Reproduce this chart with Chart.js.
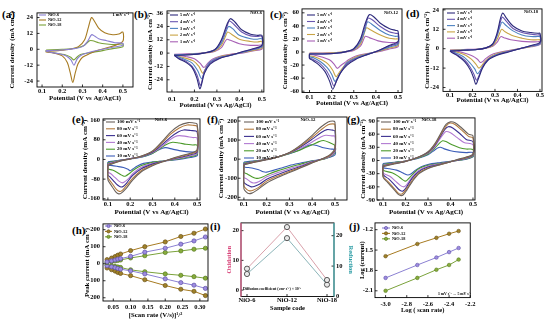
<!DOCTYPE html>
<html>
<head>
<meta charset="utf-8">
<script src="https://cdn.jsdelivr.net/npm/chart.js@4.4.1/dist/chart.umd.min.js"></script>
<style>
  body { margin: 0; background: #fff; width: 550px; height: 321px; overflow: hidden; position: relative; }
  canvas { position: absolute; }
  .lbl { position: absolute; font: bold 11px "Liberation Serif", serif; line-height: 11px; color: #000; }
</style>
</head>
<body>
<div class="lbl" style="left:2px;top:9px">(a)</div>
<div class="lbl" style="left:134px;top:9px">(b)</div>
<div class="lbl" style="left:270px;top:9px">(c)</div>
<div class="lbl" style="left:406px;top:8px">(d)</div>
<div class="lbl" style="left:72px;top:114px">(e)</div>
<div class="lbl" style="left:207px;top:114px">(f)</div>
<div class="lbl" style="left:347px;top:114px">(g)</div>
<div class="lbl" style="left:72px;top:225px">(h)</div>
<div class="lbl" style="left:210px;top:221px">(i)</div>
<div class="lbl" style="left:349px;top:221px">(j)</div>
<script>
// --- LABELS ---
const samples = ['NiO-6', 'NiO-12', 'NiO-18'];
const lowRates = ['5 mV s⁻¹', '4 mV s⁻¹', '3 mV s⁻¹', '2 mV s⁻¹', '1 mV s⁻¹'];
const highRates = ['100 mV s⁻¹', '80 mV s⁻¹', '60 mV s⁻¹', '40 mV s⁻¹', '20 mV s⁻¹', '10 mV s⁻¹'];

// --- TICKS ---
const potTicks = [0.1, 0.2, 0.3, 0.4, 0.5];
const ticksA = [-24, -12, 0, 12, 24];
const ticksB = [-24, -12, 0, 12, 24, 36];
const ticksC = [-60, -40, -20, 0, 20, 40, 60];
const ticksD = [-24, -12, 0, 12, 24];
const ticksE = [-160, -80, 0, 80, 160];
const ticksF = [-200, -100, 0, 100, 200];
const ticksG = [-90, -60, -30, 0, 30, 60, 90];
const ticksHx = [0.05, 0.10, 0.15, 0.20, 0.25, 0.30];
const ticksHy = [-200, -100, 0, 100, 200];
const ticksI = [0, 10, 20];
const ticksJx = [-3.0, -2.8, -2.6, -2.4, -2.2];
const ticksJy = [-2.1, -1.8, -1.5, -1.2];

// --- CV LOOPS (flat x,y pairs: forward sweep then reverse) ---
// (a) 1 mV/s, NiO-6 / NiO-12 / NiO-18
const loopsA = [
  [0.12,-1, 0.2,-0.5, 0.26,0.5, 0.3,2, 0.325,6, 0.345,11, 0.36,10, 0.38,8, 0.42,6.5, 0.46,5, 0.5,4.5, 0.5,3, 0.45,1.5, 0.4,0, 0.34,-2, 0.3,-4, 0.275,-7, 0.258,-12, 0.243,-8, 0.22,-5, 0.19,-3.5, 0.15,-2.5, 0.12,-1.5, 0.12,-1],
  [0.12,-1.5, 0.18,-1, 0.24,0, 0.28,2, 0.31,7, 0.33,17, 0.345,24, 0.36,21, 0.38,16, 0.41,12.5, 0.45,11, 0.48,11.5, 0.5,13, 0.5,6, 0.47,3.5, 0.43,1.5, 0.38,-0.5, 0.34,-3, 0.3,-6, 0.278,-11, 0.264,-18, 0.252,-25, 0.24,-18, 0.225,-10, 0.2,-5, 0.16,-3, 0.12,-2, 0.12,-1.5],
  [0.12,-0.5, 0.2,0, 0.27,1, 0.31,3, 0.335,6.5, 0.35,6.5, 0.38,5, 0.42,4, 0.46,3.5, 0.5,4, 0.5,2, 0.45,0.5, 0.4,-1, 0.34,-2.5, 0.29,-4, 0.272,-6, 0.257,-8, 0.242,-6, 0.21,-4, 0.17,-3, 0.12,-1.5, 0.12,-0.5]
];
// (b) NiO-6, 5..1 mV/s
const loopsB = [
  [0.11,-2, 0.18,-1.5, 0.24,0, 0.29,3, 0.32,12, 0.345,26, 0.36,31, 0.38,28, 0.41,21, 0.45,17, 0.48,16, 0.5,16, 0.5,7, 0.46,4, 0.41,1, 0.36,-2, 0.31,-5, 0.27,-10, 0.245,-18, 0.225,-32, 0.21,-22, 0.19,-13, 0.16,-8, 0.13,-5, 0.11,-2],
  [0.11,-2, 0.18,-1.5, 0.24,0, 0.29,3, 0.32,11, 0.345,24, 0.355,29, 0.375,26, 0.41,19, 0.45,15.5, 0.48,15, 0.5,15, 0.5,6.5, 0.46,3.5, 0.41,1, 0.36,-2, 0.31,-4.5, 0.27,-9, 0.245,-16, 0.227,-29, 0.212,-20, 0.19,-12, 0.16,-7, 0.13,-4.5, 0.11,-2],
  [0.11,-1.5, 0.18,-1, 0.24,0, 0.29,2.5, 0.32,9, 0.34,19, 0.352,24, 0.37,22, 0.4,16, 0.45,13, 0.48,12.5, 0.5,13, 0.5,5.5, 0.46,3, 0.41,0.5, 0.36,-2, 0.31,-4, 0.27,-8, 0.25,-14, 0.232,-23, 0.215,-16, 0.19,-9, 0.16,-6, 0.13,-3.5, 0.11,-1.5],
  [0.11,-1.5, 0.18,-1, 0.24,0, 0.29,2, 0.32,7, 0.338,15, 0.348,19, 0.365,17, 0.4,12.5, 0.45,10.5, 0.48,10, 0.5,10.5, 0.5,4.5, 0.46,2.5, 0.41,0.5, 0.36,-1.5, 0.31,-3.5, 0.28,-7, 0.255,-12, 0.237,-18, 0.22,-12, 0.195,-7, 0.16,-4.5, 0.13,-3, 0.11,-1.5],
  [0.11,-1, 0.18,-0.5, 0.24,0, 0.29,1.5, 0.32,5, 0.335,10, 0.345,12.5, 0.36,11.5, 0.4,8.5, 0.45,7, 0.48,7, 0.5,7, 0.5,3.5, 0.46,2, 0.41,0, 0.36,-1, 0.31,-3, 0.28,-5.5, 0.26,-9, 0.242,-13, 0.225,-9, 0.2,-5, 0.16,-3, 0.13,-2, 0.11,-1]
];
// (c) NiO-12, 5..1 mV/s
const loopsC = [
  [0.1,-3, 0.16,-3, 0.22,-2, 0.27,1, 0.3,5, 0.33,20, 0.35,42, 0.37,57, 0.39,54, 0.42,44, 0.46,36, 0.49,33, 0.5,32, 0.5,16, 0.46,10, 0.41,2, 0.36,-4, 0.31,-11, 0.27,-20, 0.24,-32, 0.22,-46, 0.205,-57, 0.19,-44, 0.17,-30, 0.14,-19, 0.115,-13, 0.1,-10, 0.1,-3],
  [0.1,-3, 0.16,-3, 0.22,-2, 0.27,1, 0.3,4.5, 0.33,18, 0.35,38, 0.365,52, 0.385,49, 0.42,39, 0.46,31, 0.49,28.5, 0.5,28, 0.5,14, 0.46,9, 0.41,2, 0.36,-4, 0.31,-10, 0.27,-18, 0.245,-29, 0.225,-42, 0.21,-52, 0.195,-40, 0.175,-28, 0.145,-17, 0.115,-11, 0.1,-9, 0.1,-3],
  [0.1,-2.5, 0.16,-2.5, 0.22,-1.5, 0.27,1, 0.3,4, 0.33,15, 0.35,33, 0.362,46, 0.38,43, 0.42,33, 0.46,26, 0.49,24, 0.5,24, 0.5,12, 0.46,7.5, 0.41,1.5, 0.36,-3.5, 0.31,-9, 0.27,-16, 0.25,-26, 0.23,-37, 0.215,-45, 0.2,-34, 0.18,-24, 0.15,-15, 0.12,-9, 0.1,-7, 0.1,-2.5],
  [0.1,-2, 0.16,-2, 0.22,-1, 0.27,1, 0.3,3.5, 0.33,12, 0.345,26, 0.357,37, 0.375,34, 0.42,26, 0.46,21, 0.49,20, 0.5,20, 0.5,10, 0.46,6, 0.41,1, 0.36,-3, 0.31,-7.5, 0.275,-14, 0.255,-22, 0.235,-31, 0.22,-38, 0.205,-28, 0.185,-19, 0.155,-12, 0.12,-7, 0.1,-5.5, 0.1,-2],
  [0.1,-1.5, 0.16,-1.5, 0.22,-1, 0.27,0.5, 0.3,2.5, 0.33,9, 0.343,18, 0.352,24, 0.37,22, 0.41,17, 0.46,14.5, 0.49,14.5, 0.5,15, 0.5,8, 0.46,4.5, 0.41,0.5, 0.36,-2.5, 0.31,-6, 0.28,-11, 0.26,-16, 0.24,-21, 0.225,-25, 0.21,-18, 0.19,-12, 0.16,-8, 0.12,-4.5, 0.1,-3.5, 0.1,-1.5]
];
// (d) NiO-18, 5..1 mV/s
const loopsD = [
  [0.1,-1.5, 0.16,-1, 0.22,-0.5, 0.26,0.5, 0.29,3, 0.31,10, 0.325,19, 0.335,22, 0.35,19, 0.38,14, 0.42,11, 0.46,10, 0.49,9.5, 0.5,9.5, 0.5,4, 0.46,2, 0.41,0, 0.36,-2, 0.31,-4, 0.27,-7, 0.245,-12, 0.225,-19, 0.215,-22, 0.205,-18, 0.19,-13, 0.165,-8, 0.135,-4.5, 0.11,-2.5, 0.1,-1.5],
  [0.1,-1.5, 0.16,-1, 0.22,-0.5, 0.26,0.5, 0.29,2.8, 0.31,9, 0.325,17, 0.333,19.5, 0.35,17, 0.38,12.5, 0.42,10, 0.46,9, 0.49,8.5, 0.5,8.5, 0.5,3.5, 0.46,1.8, 0.41,0, 0.36,-1.8, 0.31,-3.8, 0.27,-6.5, 0.245,-11, 0.228,-17, 0.218,-19.5, 0.207,-16, 0.19,-11.5, 0.165,-7, 0.135,-4, 0.11,-2.2, 0.1,-1.5],
  [0.1,-1.2, 0.16,-0.8, 0.22,-0.4, 0.26,0.5, 0.29,2.5, 0.31,8, 0.323,14, 0.332,16.5, 0.348,14.5, 0.38,11, 0.42,8.5, 0.46,7.5, 0.49,7.5, 0.5,7.5, 0.5,3, 0.46,1.5, 0.41,0, 0.36,-1.6, 0.31,-3.5, 0.275,-6, 0.25,-10, 0.232,-14, 0.222,-15.5, 0.21,-12.5, 0.19,-9, 0.165,-5.5, 0.135,-3.2, 0.11,-1.8, 0.1,-1.2],
  [0.1,-1, 0.16,-0.7, 0.22,-0.3, 0.26,0.4, 0.29,2, 0.31,6, 0.322,10, 0.33,12, 0.345,10.5, 0.38,8, 0.42,6.5, 0.46,5.5, 0.49,5.5, 0.5,5.5, 0.5,3, 0.46,1.4, 0.41,0, 0.36,-1.4, 0.31,-3, 0.28,-5, 0.255,-8, 0.238,-11, 0.228,-12, 0.215,-9.5, 0.195,-6.5, 0.17,-4, 0.14,-2.5, 0.11,-1.4, 0.1,-1],
  [0.1,-0.8, 0.16,-0.5, 0.22,-0.2, 0.26,0.3, 0.29,1.5, 0.31,4, 0.32,6.5, 0.328,7.5, 0.34,6.8, 0.37,5.5, 0.42,4.5, 0.46,4.2, 0.49,4.3, 0.5,4.5, 0.5,2.5, 0.46,1.2, 0.41,0, 0.36,-1.2, 0.31,-2.5, 0.28,-4, 0.26,-6, 0.245,-8, 0.235,-8.5, 0.222,-6.5, 0.2,-4.5, 0.17,-3, 0.14,-1.8, 0.11,-1, 0.1,-0.8]
];
// (e) NiO-6, 100..10 mV/s
const loopsE = [
  [0.1,-25, 0.15,-8, 0.2,2, 0.25,14, 0.3,35, 0.34,70, 0.38,110, 0.42,138, 0.46,150, 0.48,149, 0.5,144, 0.5,40, 0.47,25, 0.44,18, 0.4,8, 0.35,-8, 0.3,-26, 0.25,-50, 0.21,-85, 0.18,-120, 0.16,-137, 0.148,-140, 0.135,-132, 0.12,-112, 0.105,-92, 0.1,-82, 0.1,-25],
  [0.1,-22, 0.15,-7, 0.2,2, 0.25,13, 0.3,33, 0.34,65, 0.38,102, 0.42,128, 0.455,140, 0.48,139, 0.5,134, 0.5,35, 0.47,22, 0.44,15, 0.4,6, 0.35,-8, 0.3,-23, 0.25,-45, 0.21,-78, 0.18,-110, 0.163,-127, 0.152,-130, 0.138,-122, 0.122,-102, 0.107,-83, 0.1,-75, 0.1,-22],
  [0.1,-20, 0.15,-6, 0.2,3, 0.25,12, 0.3,30, 0.34,58, 0.38,90, 0.415,112, 0.44,120, 0.47,118, 0.5,112, 0.5,30, 0.47,19, 0.44,12, 0.4,4, 0.35,-7, 0.3,-19, 0.25,-38, 0.21,-66, 0.185,-95, 0.168,-110, 0.158,-112, 0.143,-104, 0.125,-87, 0.108,-70, 0.1,-64, 0.1,-20],
  [0.1,-17, 0.15,-5, 0.2,3, 0.25,11, 0.3,28, 0.34,52, 0.375,78, 0.4,92, 0.42,97, 0.45,94, 0.48,89, 0.5,87, 0.5,25, 0.47,15, 0.44,9, 0.4,2, 0.35,-7, 0.3,-16, 0.25,-32, 0.215,-55, 0.19,-80, 0.172,-93, 0.163,-95, 0.148,-87, 0.13,-72, 0.11,-56, 0.1,-52, 0.1,-17],
  [0.1,-13, 0.15,-4, 0.2,3, 0.25,10, 0.3,25, 0.33,42, 0.36,60, 0.39,70, 0.42,67, 0.45,62, 0.48,59, 0.5,58, 0.5,20, 0.47,12, 0.44,6, 0.4,0, 0.35,-6, 0.3,-12, 0.25,-25, 0.22,-40, 0.195,-58, 0.18,-67, 0.172,-68, 0.158,-62, 0.14,-52, 0.12,-43, 0.1,-38, 0.1,-13],
  [0.1,-10, 0.15,-3, 0.2,2, 0.25,9, 0.29,20, 0.32,35, 0.345,46, 0.36,48, 0.39,42, 0.42,36, 0.45,32, 0.48,30, 0.5,30, 0.5,15, 0.47,8, 0.44,3, 0.4,-2, 0.35,-6, 0.3,-10, 0.26,-16, 0.23,-28, 0.21,-40, 0.2,-46, 0.19,-40, 0.17,-33, 0.14,-28, 0.12,-25, 0.1,-23, 0.1,-10]
];
// (f) NiO-12, 100..10 mV/s
const loopsF = [
  [0.1,-30, 0.15,-15, 0.2,-3, 0.25,12, 0.3,35, 0.35,75, 0.4,125, 0.44,170, 0.47,195, 0.49,200, 0.5,195, 0.5,60, 0.48,25, 0.45,5, 0.4,-20, 0.35,-45, 0.3,-70, 0.25,-95, 0.2,-125, 0.16,-160, 0.135,-178, 0.12,-180, 0.11,-172, 0.1,-155, 0.1,-30],
  [0.1,-28, 0.15,-14, 0.2,-2, 0.25,12, 0.3,34, 0.35,70, 0.4,115, 0.44,155, 0.47,180, 0.49,185, 0.5,180, 0.5,55, 0.48,22, 0.45,4, 0.4,-18, 0.35,-42, 0.3,-65, 0.25,-88, 0.2,-115, 0.165,-148, 0.14,-163, 0.125,-166, 0.112,-158, 0.1,-140, 0.1,-28],
  [0.1,-26, 0.15,-13, 0.2,-2, 0.25,12, 0.3,33, 0.35,65, 0.4,105, 0.44,140, 0.465,155, 0.49,152, 0.5,148, 0.5,48, 0.48,20, 0.45,3, 0.4,-15, 0.35,-38, 0.3,-58, 0.25,-80, 0.2,-105, 0.17,-130, 0.145,-143, 0.132,-145, 0.118,-137, 0.1,-120, 0.1,-26],
  [0.1,-24, 0.15,-12, 0.2,-1, 0.25,12, 0.3,32, 0.35,58, 0.4,90, 0.44,118, 0.46,125, 0.49,122, 0.5,120, 0.5,40, 0.48,17, 0.45,2, 0.4,-13, 0.35,-33, 0.3,-50, 0.25,-70, 0.2,-92, 0.175,-112, 0.155,-123, 0.142,-125, 0.128,-118, 0.11,-102, 0.1,-95, 0.1,-24],
  [0.1,-20, 0.15,-10, 0.2,0, 0.25,12, 0.3,30, 0.35,50, 0.4,75, 0.43,92, 0.45,98, 0.48,85, 0.5,72, 0.5,32, 0.48,14, 0.45,0, 0.4,-10, 0.35,-26, 0.3,-42, 0.25,-60, 0.21,-78, 0.185,-92, 0.165,-100, 0.152,-100, 0.135,-92, 0.115,-78, 0.1,-68, 0.1,-20],
  [0.1,-15, 0.15,-8, 0.2,0, 0.25,12, 0.3,28, 0.34,45, 0.37,65, 0.395,75, 0.42,72, 0.45,60, 0.48,53, 0.5,50, 0.5,22, 0.47,8, 0.44,-2, 0.4,-8, 0.35,-20, 0.3,-33, 0.26,-48, 0.225,-60, 0.2,-68, 0.185,-66, 0.165,-55, 0.14,-48, 0.12,-44, 0.1,-40, 0.1,-15]
];
// (g) NiO-18, 100..10 mV/s
const loopsG = [
  [0.1,-14, 0.15,-8, 0.2,-2, 0.25,6, 0.3,20, 0.33,38, 0.36,65, 0.38,82, 0.4,88, 0.42,86, 0.45,74, 0.48,60, 0.5,56, 0.5,15, 0.47,8, 0.43,2, 0.4,-3, 0.35,-10, 0.3,-18, 0.26,-30, 0.23,-48, 0.205,-68, 0.19,-78, 0.18,-80, 0.165,-76, 0.145,-64, 0.12,-50, 0.1,-38, 0.1,-14],
  [0.1,-13, 0.15,-7, 0.2,-2, 0.25,6, 0.3,19, 0.33,36, 0.36,62, 0.38,78, 0.395,85, 0.42,82, 0.45,69, 0.48,55, 0.5,51, 0.5,14, 0.47,7, 0.43,1.5, 0.4,-3, 0.35,-10, 0.3,-17, 0.26,-28, 0.23,-45, 0.205,-64, 0.19,-74, 0.18,-77, 0.165,-73, 0.145,-61, 0.12,-47, 0.1,-36, 0.1,-13],
  [0.1,-12, 0.15,-7, 0.2,-2, 0.25,6, 0.3,18, 0.33,34, 0.355,55, 0.375,71, 0.39,77, 0.41,74, 0.44,62, 0.47,48, 0.5,43, 0.5,13, 0.47,6, 0.43,1, 0.4,-3, 0.35,-9, 0.3,-15, 0.26,-25, 0.23,-40, 0.21,-56, 0.195,-67, 0.185,-70, 0.17,-66, 0.15,-55, 0.125,-42, 0.1,-32, 0.1,-12],
  [0.1,-11, 0.15,-6, 0.2,-1.5, 0.25,6, 0.3,17, 0.33,31, 0.35,47, 0.37,61, 0.38,66, 0.4,63, 0.43,52, 0.46,41, 0.5,36, 0.5,12, 0.47,5, 0.43,0.5, 0.4,-3, 0.35,-8, 0.3,-13, 0.26,-22, 0.235,-34, 0.215,-48, 0.2,-58, 0.19,-60, 0.175,-56, 0.155,-47, 0.13,-36, 0.1,-28, 0.1,-11],
  [0.1,-9, 0.15,-5, 0.2,-1, 0.25,5, 0.3,15, 0.33,28, 0.35,39, 0.365,45, 0.38,43, 0.41,35, 0.44,29, 0.47,26, 0.5,25, 0.5,10, 0.47,4, 0.43,0, 0.4,-2.5, 0.35,-7, 0.3,-11, 0.26,-18, 0.24,-27, 0.22,-38, 0.205,-46, 0.198,-47, 0.185,-43, 0.165,-35, 0.14,-28, 0.1,-22, 0.1,-9],
  [0.1,-7, 0.15,-4, 0.2,-1, 0.25,4, 0.3,13, 0.33,24, 0.345,29, 0.355,30, 0.37,27, 0.4,22, 0.44,19, 0.47,18, 0.5,18, 0.5,8, 0.47,3, 0.43,0, 0.4,-2, 0.35,-5, 0.3,-9, 0.27,-14, 0.245,-22, 0.225,-30, 0.21,-33, 0.198,-31, 0.18,-26, 0.16,-22, 0.13,-19, 0.1,-16, 0.1,-7]
];

// --- (h) PEAK CURRENT vs sqrt(scan rate) ---
const sqrtRate = [0.032, 0.045, 0.055, 0.063, 0.071, 0.100, 0.141, 0.200, 0.245, 0.283, 0.316];
const anodicNiO6  = [11, 17, 22, 27, 30, 43, 68, 91, 115, 134, 157];
const anodicNiO12 = [24, 33, 42, 50, 57, 77, 100, 128, 160, 179, 204];
const anodicNiO18 = [7, 12, 16, 19, 22, 34, 47, 66, 75, 85, 91];
const cathodicNiO6  = [-12, -18, -23, -28, -32, -42, -60, -89, -111, -126, -145];
const cathodicNiO12 = [-25, -35, -43, -51, -57, -70, -94, -128, -150, -162, -187];
const cathodicNiO18 = [-8, -12, -16, -19, -22, -36, -47, -60, -68, -76, -85];

// --- (i) DIFFUSION COEFFICIENTS ---
const sampleIdx = [0, 1, 2];
const oxidation = [7.2, 21.2, 3.4];
const reduction = [7.4, 19.2, 3.9];

// --- (j) LOG CURRENT vs LOG SCAN RATE ---
const logRate = [-3.0, -2.7, -2.52, -2.4, -2.31];
const logNiO6  = [-1.91, -1.72, -1.61, -1.53, -1.47];
const logNiO12 = [-1.59, -1.41, -1.32, -1.26, -1.22];
const logNiO18 = [-2.10, -1.91, -1.79, -1.72, -1.64];

// --- COLOURS ---
const sampleColors = ['#8b80d2', '#a77b22', '#7aa23a'];
const markerColors = ['#9d8ce0', '#a0822a', '#88ac3c'];
const markerEdges = ['#5f50a8', '#6a5015', '#557a1c'];
const lowRateColors = ['#2e2b7c', '#6a56b0', '#4d82c0', '#c9a445', '#a862b6'];
const highRateColors = ['#6b625c', '#b37a3e', '#3a2f90', '#b27ad2', '#4d9b2c', '#3c5db8'];

const FONT = '"Liberation Serif", "Times New Roman", serif';
Chart.defaults.font.family = FONT;
Chart.defaults.font.weight = 'bold';
Chart.defaults.font.size = 6.5;
Chart.defaults.color = '#000';
Chart.defaults.animation = false;

function pts(flat) {
  const out = [];
  for (let i = 0; i < flat.length; i += 2) out.push({ x: flat[i], y: flat[i + 1] });
  return out;
}
function zip(xs, ys) { return xs.map((x, i) => ({ x, y: ys[i] })); }

// frame, inner ticks, legend and notes drawn on top of the plot
const deco = {
  id: 'deco',
  afterDatasetsDraw(chart, args, o) {
    const { ctx, chartArea: a } = chart;
    const ox = chart.canvas.offsetLeft, oy = chart.canvas.offsetTop;
    ctx.save();
    ctx.strokeStyle = '#000';
    ctx.lineWidth = 0.8;
    ['x', 'y', 'y2'].forEach(id => {
      const s = chart.scales[id];
      if (!s) return;
      s.ticks.forEach(tk => {
        const p = s.getPixelForValue(tk.value);
        ctx.beginPath();
        if (id === 'x') { ctx.moveTo(p, a.bottom); ctx.lineTo(p, a.bottom - 2.5); }
        else if (id === 'y') { ctx.moveTo(a.left, p); ctx.lineTo(a.left + 2.5, p); }
        else { ctx.moveTo(a.right, p); ctx.lineTo(a.right - 2.5, p); }
        ctx.stroke();
      });
    });
    ctx.lineWidth = 0.9;
    ctx.strokeRect(a.left, a.top, a.width, a.height);
    if (o.sides) {
      ctx.lineWidth = 1.2;
      ctx.strokeStyle = o.sides[0];
      ctx.beginPath(); ctx.moveTo(a.left, a.top); ctx.lineTo(a.left, a.bottom); ctx.stroke();
      ctx.strokeStyle = o.sides[1];
      ctx.beginPath(); ctx.moveTo(a.right, a.top); ctx.lineTo(a.right, a.bottom); ctx.stroke();
    }
    if (o.legend) {
      const L = o.legend;
      ctx.font = `bold ${L.size}px ${FONT}`;
      ctx.textBaseline = 'middle';
      ctx.textAlign = 'left';
      L.items.forEach((it, i) => {
        const ds = chart.data.datasets[it];
        const x = L.x - ox, y = L.y + i * L.dy - oy;
        ctx.strokeStyle = ds.borderColor;
        ctx.lineWidth = 1.1;
        ctx.beginPath(); ctx.moveTo(x, y); ctx.lineTo(x + L.len, y); ctx.stroke();
        if (L.marker) {
          ctx.fillStyle = ds.pointBackgroundColor;
          ctx.strokeStyle = ds.pointBorderColor;
          ctx.lineWidth = 0.7;
          ctx.beginPath(); ctx.arc(x + L.len / 2, y, 1.6, 0, Math.PI * 2); ctx.fill(); ctx.stroke();
        }
        ctx.fillStyle = '#000';
        ctx.fillText(ds.label, x + L.len + 2, y);
      });
    }
    (o.notes || []).forEach(n => {
      ctx.font = `bold ${n.size || 5}px ${FONT}`;
      ctx.fillStyle = '#000';
      ctx.textBaseline = 'middle';
      ctx.textAlign = n.align || 'left';
      ctx.fillText(n.t, n.x - ox, n.y - oy);
    });
    ctx.restore();
  }
};

function axis(pos, range, ticks, fmt, title, size, tickPad, titleSize, titleColor) {
  return {
    type: 'linear', position: pos, min: range[0], max: range[1],
    afterBuildTicks: s => { s.ticks = ticks.map(v => ({ value: v })); },
    afterFit: s => { if (pos === 'bottom') s.height = size; else s.width = size; },
    grid: { display: false, drawOnChartArea: false, drawTicks: false },
    border: { display: false },
    ticks: { padding: tickPad, autoSkip: false, maxRotation: 0, font: { size: 6.5, weight: 'bold' }, callback: v => fmt(v) },
    title: { display: true, text: title, padding: 0, color: titleColor || '#000', font: { size: titleSize, weight: 'bold' } }
  };
}

function panel(p) {
  const cv = document.createElement('canvas');
  const [l, t, r, b] = p.frame;
  cv.width = r - l + p.yW + (p.rW || 0) + p.padRight;
  cv.height = b - t + p.padTop + p.xH;
  cv.style.left = (l - p.yW) + 'px';
  cv.style.top = (t - p.padTop) + 'px';
  document.body.appendChild(cv);
  const ts = p.ts || 6.8;
  const scales = {
    x: axis('bottom', p.x, p.xTicks, p.xFmt, p.xTitle, p.xH, p.xPad, ts),
    y: axis('left', p.y, p.yTicks, p.yFmt || String, p.yTitle, p.yW, p.yPad, ts, p.yColor)
  };
  if (p.y2) scales.y2 = axis('right', p.y2, p.y2Ticks, String, p.y2Title, p.rW, p.yPad, ts, p.y2Color);
  new Chart(cv, {
    type: 'scatter',
    data: { datasets: p.datasets },
    options: {
      responsive: false,
      animation: false,
      layout: { padding: { top: p.padTop, right: p.padRight, left: 0, bottom: 0 } },
      scales,
      plugins: { legend: { display: false }, tooltip: { enabled: false }, deco: p.deco }
    },
    plugins: [deco]
  });
}

function cvSets(loops, colors, labels) {
  return loops.map((lp, i) => ({
    label: labels[i], data: pts(lp), borderColor: colors[i], backgroundColor: colors[i],
    borderWidth: 1.1, pointRadius: 0, showLine: true, tension: 0.3
  }));
}

const fx1 = v => v.toFixed(1);
const potTitle = 'Potential (V vs Ag/AgCl)';
const cdTitle = 'Current density (mA cm⁻²)';

// (a)
panel({ frame: [37, 10, 133, 87], yW: 29, xH: 15, padTop: 5, padRight: 4, xPad: 0, yPad: 4,
  x: [0.075, 0.55], xTicks: potTicks, xFmt: fx1, xTitle: potTitle,
  y: [-28.5, 27.5], yTicks: ticksA, yTitle: cdTitle,
  datasets: cvSets(loopsA, sampleColors, samples),
  deco: { legend: { x: 39, y: 15, dy: 5, len: 7, size: 4.3, items: [0, 1, 2] },
          notes: [{ t: '1 mV s⁻¹', x: 129, y: 15, align: 'right', size: 4.5 }] } });
// (b)
panel({ frame: [167, 8, 265, 92], yW: 21, xH: 17, padTop: 5, padRight: 4, xPad: 3, yPad: 4,
  x: [0.078, 0.509], xTicks: potTicks, xFmt: fx1, xTitle: potTitle,
  y: [-35, 38], yTicks: ticksB, yTitle: cdTitle,
  datasets: cvSets(loopsB, lowRateColors, lowRates),
  deco: { legend: { x: 170, y: 15, dy: 6.7, len: 8, size: 4.3, items: [0, 1, 2, 3, 4] },
          notes: [{ t: 'NiO-6', x: 262, y: 13, align: 'right', size: 4.5 }] } });
// (c)
panel({ frame: [302, 7, 402, 93], yW: 21, xH: 14.5, padTop: 5, padRight: 4, xPad: 0.6, yPad: 3,
  x: [0.066, 0.518], xTicks: potTicks, xFmt: fx1, xTitle: potTitle,
  y: [-62, 66], yTicks: ticksC, yTitle: cdTitle,
  datasets: cvSets(loopsC, lowRateColors, lowRates),
  deco: { legend: { x: 307, y: 15, dy: 6.5, len: 8, size: 4.3, items: [0, 1, 2, 3, 4] },
          notes: [{ t: 'NiO-12', x: 398, y: 13, align: 'right', size: 4.5 }] } });
// (d)
panel({ frame: [443, 6, 542, 92], yW: 20, xH: 12.6, padTop: 5, padRight: 6, xPad: 0, yPad: 4,
  x: [0.069, 0.509], xTicks: potTicks, xFmt: fx1, xTitle: potTitle,
  y: [-26.4, 24.6], yTicks: ticksD, yTitle: cdTitle,
  datasets: cvSets(loopsD, lowRateColors, lowRates),
  deco: { legend: { x: 447, y: 13, dy: 6.3, len: 8, size: 4.3, items: [0, 1, 2, 3, 4] },
          notes: [{ t: 'NiO-18', x: 538, y: 12, align: 'right', size: 4.5 }] } });
// (e)
panel({ frame: [103, 117, 200, 200], yW: 22, xH: 16, padTop: 5, padRight: 4, xPad: 0.6, yPad: 3, ts: 7,
  x: [0.078, 0.513], xTicks: potTicks, xFmt: fx1, xTitle: potTitle,
  y: [-165, 165], yTicks: ticksE, yTitle: cdTitle,
  datasets: cvSets(loopsE, highRateColors, highRates),
  deco: { legend: { x: 106, y: 122, dy: 6.8, len: 9, size: 5, items: [0, 1, 2, 3, 4, 5] },
          notes: [{ t: 'NiO-6', x: 161, y: 120, align: 'center', size: 4.8 }] } });
// (f)
panel({ frame: [238, 117, 347, 200], yW: 21, xH: 16, padTop: 5, padRight: 4, xPad: 0.6, yPad: 1, ts: 7,
  x: [0.074, 0.553], xTicks: potTicks, xFmt: fx1, xTitle: potTitle,
  y: [-214, 221], yTicks: ticksF, yTitle: cdTitle,
  datasets: cvSets(loopsF, highRateColors, highRates),
  deco: { legend: { x: 244, y: 122, dy: 7.2, len: 10, size: 5, items: [0, 1, 2, 3, 4, 5] },
          notes: [{ t: 'NiO-12', x: 308, y: 120, align: 'center', size: 4.8 }] } });
// (g)
panel({ frame: [377, 117, 475, 200], yW: 18, xH: 16, padTop: 5, padRight: 4, xPad: 0.6, yPad: 2, ts: 7,
  x: [0.073, 0.509], xTicks: potTicks, xFmt: fx1, xTitle: potTitle,
  y: [-90, 97], yTicks: ticksG, yTitle: cdTitle,
  datasets: cvSets(loopsG, highRateColors, highRates),
  deco: { legend: { x: 381, y: 122, dy: 7.2, len: 10, size: 5, items: [0, 1, 2, 3, 4, 5] },
          notes: [{ t: 'NiO-18', x: 429, y: 120, align: 'center', size: 4.8 }] } });

// (h)
const anodic = [anodicNiO6, anodicNiO12, anodicNiO18];
const cathodic = [cathodicNiO6, cathodicNiO12, cathodicNiO18];
const hSets = [];
[anodic, cathodic].forEach(group => group.forEach((ys, i) => hSets.push({
  label: samples[i], data: zip(sqrtRate, ys), borderColor: sampleColors[i], borderWidth: 1,
  pointRadius: 2.1, pointBackgroundColor: markerColors[i], pointBorderColor: markerEdges[i],
  pointBorderWidth: 0.7, showLine: true, tension: 0
})));
panel({ frame: [103, 221, 208, 301], yW: 20, xH: 18, padTop: 4, padRight: 5, xPad: 2.6, yPad: 3,
  x: [0.0203, 0.3235], xTicks: ticksHx, xFmt: v => v.toFixed(2), xTitle: '[Scan rate (V/s)]¹/²',
  y: [-219, 234], yTicks: ticksHy, yTitle: 'Peak current (mA cm⁻²)',
  datasets: hSets,
  deco: { legend: { x: 105, y: 226, dy: 5.4, len: 7, size: 4.3, marker: true, items: [0, 1, 2] } } });

// (i)
panel({ frame: [241, 222, 334, 297], yW: 16, rW: 21, xH: 15.5, padTop: 5, padRight: 2, xPad: 0, yPad: 2, ts: 6.5,
  x: [-0.15, 2.175], xTicks: sampleIdx, xFmt: v => samples[v], xTitle: 'Sample code',
  y: [-2.15, 22.6], yTicks: ticksI, yTitle: 'Oxidation', yColor: '#d8457a',
  y2: [0, 24.2], y2Ticks: ticksI, y2Title: 'Reduction', y2Color: '#2f9ea6',
  datasets: [
    { label: 'Oxidation', data: zip(sampleIdx, oxidation), yAxisID: 'y', borderColor: '#d9a0aa', borderWidth: 1,
      pointRadius: 2.6, pointBackgroundColor: '#e8e8e8', pointBorderColor: '#333', pointBorderWidth: 0.8, showLine: true },
    { label: 'Reduction', data: zip(sampleIdx, reduction), yAxisID: 'y2', borderColor: '#8bb4b8', borderWidth: 1,
      pointRadius: 2.6, pointBackgroundColor: '#e8e8e8', pointBorderColor: '#333', pointBorderWidth: 0.8, showLine: true }
  ],
  deco: { sides: ['#e0608c', '#4cb4b8'],
          notes: [{ t: 'Diffusion coefficient (cm² s⁻¹) × 10⁻⁹', x: 243, y: 289, size: 3.9 }] } });

// (j)
const logSets = [logNiO6, logNiO12, logNiO18].map((ys, i) => ({
  label: samples[i], data: zip(logRate, ys), borderColor: sampleColors[i], borderWidth: 1,
  pointRadius: 1.8, pointBackgroundColor: markerColors[i], pointBorderColor: markerEdges[i],
  pointBorderWidth: 0.6, showLine: true, tension: 0
}));
panel({ frame: [375, 222, 473, 298], yW: 17, xH: 16.4, padTop: 5, padRight: 5, xPad: 2.6, yPad: 2, ts: 6.5,
  x: [-3.1, -2.2], xTicks: ticksJx, xFmt: fx1, xTitle: 'Log ( scan rate)',
  y: [-2.2, -1.1], yTicks: ticksJy, yFmt: fx1, yTitle: 'Log (current)',
  datasets: logSets,
  deco: { legend: { x: 382, y: 228, dy: 5.4, len: 8, size: 4.3, marker: true, items: [0, 1, 2] },
          notes: [{ t: '1 mV s⁻¹ → 5 mV s⁻¹', x: 471, y: 294, align: 'right', size: 3.9 }] } });
</script>
</body>
</html>
